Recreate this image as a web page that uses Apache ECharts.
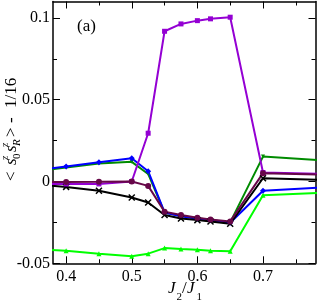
<!DOCTYPE html>
<html>
<head>
<meta charset="utf-8">
<script src="https://cdn.jsdelivr.net/npm/echarts@6/dist/echarts.min.js"></script>
<style>html,body{margin:0;padding:0;background:#fff}#c{width:317px;height:303px}</style>
</head>
<body>
<div id="c"></div>
<script>
const xs = [0.35, 0.4, 0.45, 0.5, 0.525, 0.55, 0.575, 0.6, 0.62, 0.65, 0.7, 0.8];
const violet = [-0.0015, -0.0015, -0.0015, 0.0, 0.0295, 0.0918, 0.0963, 0.0983, 0.0994, 0.1004, 0.0055, 0.0045];
const maroon = [-0.0004, -0.0003, -0.0002, 0.0, -0.0027, -0.0185, -0.0205, -0.0222, -0.0232, -0.0244, 0.0051, 0.0041];
const black = [-0.0018, -0.0033, -0.0057, -0.0098, -0.0128, -0.0205, -0.0226, -0.0236, -0.0244, -0.0258, 0.0020, 0.0008];
const blue = [0.0067, 0.0091, 0.0118, 0.0142, 0.0063, -0.0189, -0.0212, -0.0228, -0.0237, -0.0252, -0.0057, -0.0035];
const green = [0.0060, 0.0085, 0.0110, 0.0120, 0.0046, -0.0190, -0.0210, -0.0225, -0.0235, -0.0250, 0.0152, 0.0127];
const lightgreen = [-0.0413, -0.0423, -0.0441, -0.0457, -0.0441, -0.0407, -0.0413, -0.0417, -0.0423, -0.0427, -0.0084, -0.0068];
const xMajor = [0.4, 0.5, 0.6, 0.7];
const xMinor = [0.45, 0.55, 0.65, 0.75];
const yMajor = [-0.05, 0, 0.05, 0.1];
const yMinor = [-0.025, 0.025, 0.075];

const chart = echarts.init(document.getElementById('c'), null, {renderer: 'canvas'});
const F = '"Liberation Serif", "Times New Roman", serif';
const pair = a => xs.map((x, i) => [x, a[i]]);

function xAx(pos, vals, len, main, labels) {
  return {
    type: 'value', min: 0.38, max: 0.78, position: pos,
    axisLine: {show: main, onZero: false, lineStyle: {color: '#000', width: 1.5}},
    axisTick: {show: true, inside: true, length: len, customValues: vals, lineStyle: {color: '#000', width: 1}},
    axisLabel: {show: labels, customValues: vals, margin: 5, color: '#000', fontFamily: F, fontSize: 16,
      formatter: v => String(+v.toFixed(2))},
    splitLine: {show: false}
  };
}
function yAx(pos, vals, len, main, labels) {
  return {
    type: 'value', min: -0.05, max: 0.11, position: pos,
    axisLine: {show: main, onZero: false, lineStyle: {color: '#000', width: 1.5}},
    axisTick: {show: true, inside: true, length: len, customValues: vals, lineStyle: {color: '#000', width: 1}},
    axisLabel: {show: labels, customValues: vals, margin: 3, color: '#000', fontFamily: F, fontSize: 16,
      formatter: v => String(+v.toFixed(3))},
    splitLine: {show: false}
  };
}

function ser(name, data, color, symbol, size, extra) {
  return Object.assign({
    name, type: 'line', data: pair(data), xAxisIndex: 0, yAxisIndex: 0,
    symbol, symbolSize: size, clip: true,
    lineStyle: {color, width: 2}, itemStyle: {color},
    animation: false
  }, extra || {});
}

const cross = 'path://M0,0L10,10M10,0L0,10';

chart.setOption({
  animation: false,
  grid: {left: 53, right: 1.5, top: 1.5, bottom: 39.7, containLabel: false},
  xAxis: [
    xAx('bottom', xMajor, 7, true, true),
    xAx('bottom', xMinor, 4, false, false),
    xAx('top', xMajor, 7, true, false),
    xAx('top', xMinor, 4, false, false)
  ],
  yAxis: [
    yAx('left', yMajor, 7, true, true),
    yAx('left', yMinor, 4, false, false),
    yAx('right', yMajor, 7, true, false),
    yAx('right', yMinor, 4, false, false)
  ],
  series: [
    ser('lightgreen', lightgreen, '#00ff00', 'triangle', 5),
    ser('green', green, '#008b00', 'triangle', 4, {symbolRotate: 180}),
    ser('blue', blue, '#0000ff', 'diamond', 6),
    ser('black', black, '#000000', cross, 6, {itemStyle: {color: '#000', borderColor: '#000', borderWidth: 1.5}}),
    ser('violet', violet, '#9400d3', 'rect', 5),
    ser('maroon', maroon, '#670748', 'circle', 6)
  ],
  graphic: [
    {type: 'text', x: 77, y: 27, style: {text: '(a)', font: '17px ' + F, fill: '#000', verticalAlign: 'middle', align: 'left'}},
    {type: 'group', x: 168, y: 289, children: [
      {type: 'text', x: 0, y: 0, style: {text: 'J', font: 'italic 17px ' + F, fill: '#000', verticalAlign: 'middle'}},
      {type: 'text', x: 8.5, y: 8, style: {text: '2', font: '11px ' + F, fill: '#000', verticalAlign: 'middle'}},
      {type: 'text', x: 14, y: 0, style: {text: '/', font: '17px ' + F, fill: '#000', verticalAlign: 'middle'}},
      {type: 'text', x: 19, y: 0, style: {text: 'J', font: 'italic 17px ' + F, fill: '#000', verticalAlign: 'middle'}},
      {type: 'text', x: 28.5, y: 8, style: {text: '1', font: '11px ' + F, fill: '#000', verticalAlign: 'middle'}}
    ]},
    {type: 'group', x: 12, y: 181, rotation: Math.PI / 2, children: [
      {type: 'text', x: 0, y: 0, style: {text: '<', font: '17px ' + F, fill: '#000', verticalAlign: 'middle'}},
      {type: 'text', x: 16, y: 0, style: {text: 's', font: 'italic 17px ' + F, fill: '#000', verticalAlign: 'middle'}},
      {type: 'text', x: 22, y: 5.5, style: {text: '0', font: '11px ' + F, fill: '#000', verticalAlign: 'middle'}},
      {type: 'text', x: 21, y: -7, style: {text: 'z', font: 'italic 11px ' + F, fill: '#000', verticalAlign: 'middle'}},
      {type: 'text', x: 29, y: 0, style: {text: 's', font: 'italic 17px ' + F, fill: '#000', verticalAlign: 'middle'}},
      {type: 'text', x: 35, y: 5.5, style: {text: 'R', font: 'italic 11px ' + F, fill: '#000', verticalAlign: 'middle'}},
      {type: 'text', x: 34, y: -7, style: {text: 'z', font: 'italic 11px ' + F, fill: '#000', verticalAlign: 'middle'}},
      {type: 'text', x: 44, y: 0, style: {text: '>', font: '17px ' + F, fill: '#000', verticalAlign: 'middle'}},
      {type: 'text', x: 58, y: 0, style: {text: '-', font: '17px ' + F, fill: '#000', verticalAlign: 'middle'}},
      {type: 'text', x: 73, y: 0, style: {text: '1/16', font: '17px ' + F, fill: '#000', verticalAlign: 'middle'}}
    ]}
  ]
});
</script>
</body>
</html>
